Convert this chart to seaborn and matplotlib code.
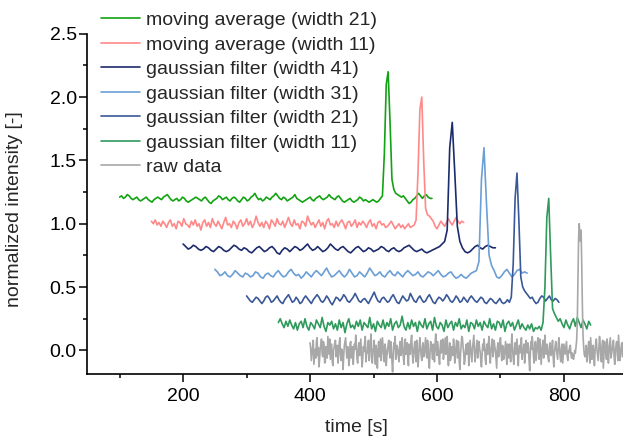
import numpy as np
import pandas as pd
import matplotlib
matplotlib.use("Agg")
import matplotlib.pyplot as plt
from matplotlib.ticker import MultipleLocator, FormatStrFormatter
import seaborn as sns

# ---------------------------------------------------------------------------
# Data: each trace is sampled at a fixed step from its own start time.
# Values are normalized intensities (baseline ~0, peak 1.0).
# ---------------------------------------------------------------------------
series_names = [
    "moving average (width 21)",
    "moving average (width 11)",
    "gaussian filter (width 41)",
    "gaussian filter (width 31)",
    "gaussian filter (width 21)",
    "gaussian filter (width 11)",
    "raw data",
]
start_times = [100, 150, 200, 250, 300, 350, 400]   # s
sample_steps = [3, 3, 4, 4, 3, 3, 1]                # s
offsets = [1.2, 1.0, 0.8, 0.6, 0.4, 0.2, 0.0]       # vertical stacking
colors = ["#12a312", "#ff8888", "#1c2b6b", "#6b9fd6",
          "#3a5897", "#2f9a5c", "#a8a8a8"]

raw_data = [
    0.06, 0.01, -0.08, -0.02, 0.03, 0.08, -0.11, -0.05, 0.01, -0.06,
    0.07, 0.10, -0.04, 0.02, -0.13, -0.07, 0.02, 0.05, 0.09, -0.03,
    -0.05, 0.07, 0.04, -0.10, -0.09, 0.03, 0.00, -0.06, 0.11, 0.04,
    -0.03, 0.09, -0.07, -0.01, 0.05, -0.09, -0.12, 0.00, 0.03, 0.06,
    0.08, -0.05, -0.02, 0.04, -0.10, -0.03, 0.06, 0.10, -0.04, -0.08,
    0.01, -0.02, -0.15, -0.04, 0.04, 0.07, 0.10, 0.01, -0.06, 0.03,
    0.02, -0.12, -0.08, 0.05, 0.07, -0.06, -0.01, 0.03, -0.11, -0.02,
    0.05, 0.01, 0.12, 0.04, -0.07, -0.10, 0.00, 0.06, -0.04, 0.02,
    0.09, -0.04, -0.13, -0.06, 0.03, -0.01, 0.06, 0.11, -0.09, -0.03,
    -0.02, 0.04, 0.08, -0.08, -0.05, 0.06, 0.13, 0.02, -0.10, -0.01,
    0.01, 0.08, -0.06, -0.11, 0.04, -0.03, -0.14, 0.00, 0.07, -0.05,
    0.02, 0.09, -0.08, -0.02, 0.10, 0.03, -0.03, -0.09, 0.05, 0.01,
    -0.12, -0.04, 0.00, 0.05, 0.08, -0.02, -0.06, 0.07, 0.03, -0.09,
    -0.17, -0.05, 0.06, 0.01, 0.11, -0.07, -0.04, 0.04, 0.01, -0.03,
    -0.09, 0.02, 0.07, -0.04, -0.02, 0.10, 0.04, -0.06, -0.11, 0.01,
    0.09, -0.03, 0.00, 0.06, -0.07, -0.12, 0.05, 0.03, -0.03, 0.08,
    0.12, 0.01, -0.10, -0.02, 0.02, 0.07, -0.05, -0.09, 0.08, 0.00,
    -0.13, -0.06, 0.04, 0.10, 0.01, -0.04, -0.08, 0.03, 0.06, -0.05,
    -0.02, 0.04, 0.10, -0.03, -0.06, 0.08, 0.03, -0.10, -0.14, -0.01,
    0.07, 0.02, -0.01, -0.07, 0.05, 0.00, -0.09, 0.06, 0.13, 0.02,
    -0.04, 0.07, 0.00, -0.06, -0.11, 0.02, 0.08, -0.02, 0.02, 0.09,
    -0.07, -0.03, 0.04, 0.10, -0.03, 0.05, 0.11, -0.05, -0.12, 0.00,
    0.06, -0.08, -0.05, 0.03, 0.01, -0.04, 0.09, 0.02, -0.10, -0.01,
    0.03, 0.08, -0.06, 0.01, 0.07, -0.09, -0.15, -0.03, 0.04, 0.11,
    0.10, 0.03, -0.02, -0.11, -0.08, 0.01, 0.05, -0.03, 0.00, 0.06,
    -0.12, -0.05, 0.08, 0.02, -0.04, -0.09, 0.02, 0.07, 0.12, -0.01,
    -0.09, -0.02, 0.03, 0.08, -0.06, -0.01, 0.07, 0.02, -0.01, -0.08,
    -0.13, -0.03, 0.05, 0.00, 0.09, 0.04, -0.07, -0.11, 0.01, 0.05,
    -0.03, 0.06, 0.11, -0.04, -0.10, 0.00, 0.04, 0.09, -0.05, -0.01,
    0.08, 0.03, 0.00, -0.07, -0.14, 0.02, 0.06, -0.05, -0.02, 0.07,
    0.10, -0.01, -0.08, 0.04, 0.03, -0.07, -0.04, 0.02, 0.07, -0.03,
    -0.11, 0.05, 0.02, -0.06, 0.05, 0.00, -0.09, 0.04, 0.13, 0.01,
    -0.06, -0.11, 0.01, 0.06, -0.03, 0.03, 0.09, -0.04, -0.12, 0.00,
    0.04, -0.02, 0.06, 0.10, -0.07, -0.01, 0.00, 0.05, -0.10, -0.04,
    0.08, 0.02, -0.02, 0.06, 0.03, -0.08, -0.16, -0.02, 0.07, 0.01,
    0.11, 0.04, -0.05, -0.10, 0.02, 0.07, -0.08, -0.01, 0.05, 0.10,
    -0.01, -0.07, 0.09, 0.02, -0.11, -0.04, 0.04, 0.08, -0.06, 0.01,
    0.12, -0.02, -0.03, 0.05, 0.00, -0.06, -0.09, 0.03, 0.06, -0.02,
    -0.04, 0.03, 0.08, -0.05, -0.13, -0.02, 0.03, 0.07, 0.01, -0.03,
    -0.07, 0.04, 0.10, 0.01, -0.05, -0.09, 0.02, 0.05, -0.10, -0.02,
    0.05, 0.01, -0.03, 0.02, 0.07, -0.04, -0.08, 0.00, -0.02, 0.03,
    0.04, -0.03, -0.06, -0.02, -0.05, -0.07, -0.04,
    0.00, -0.02, 0.03, 0.08, 0.22, 0.55, 0.88, 1.00, 0.92, 0.86,
    0.95, 0.68, 0.35, 0.12, 0.03, -0.03, -0.05,
    -0.03, 0.04, -0.09, -0.02, 0.02, 0.07, -0.05, -0.10, 0.10, 0.01,
    -0.07, 0.03, 0.04, -0.05, -0.12, 0.00, 0.06, 0.09, 0.00, -0.04,
    -0.08, 0.02, 0.11, 0.05, -0.04, -0.09, 0.03, 0.08, -0.14, -0.03,
    0.07, 0.01, -0.02, -0.07, 0.09, 0.03, -0.10, -0.01, 0.05, 0.10,
    -0.06, -0.03, 0.01, 0.06, 0.08, -0.05, -0.11, 0.00, 0.04, 0.07,
    -0.03, -0.08, 0.12, 0.02, -0.08, -0.02, 0.02, 0.06, -0.05, 0.01,
    0.07, -0.04, -0.13, -0.06, 0.03, 0.05, -0.01,
]

gauss_11 = [
    0.02, 0.05, 0.01, -0.02, 0.03, -0.01, 0.04, 0.00, -0.03, 0.02,
    -0.04, 0.01, 0.03, -0.02, 0.05, -0.01, -0.04, 0.02, 0.00, -0.03,
    0.04, 0.01, -0.02, 0.06, -0.01, -0.05, 0.02, 0.00, 0.03, -0.03,
    0.01, -0.04, 0.04, -0.02, 0.02, -0.06, 0.01, 0.05, -0.02, 0.00,
    -0.03, 0.03, -0.01, 0.04, -0.04, 0.02, 0.00, -0.02, 0.06, -0.03,
    0.01, -0.05, 0.03, 0.00, -0.02, 0.04, -0.03, 0.02, -0.01, 0.05,
    -0.04, 0.01, 0.03, -0.02, 0.00, 0.07, -0.01, -0.04, 0.02, -0.03,
    0.04, -0.01, 0.02, -0.05, 0.03, 0.00, -0.02, 0.05, -0.03, 0.01,
    0.03, -0.04, 0.06, -0.01, -0.03, 0.02, 0.00, -0.05, 0.04, -0.02,
    0.01, 0.03, -0.04, 0.02, -0.01, 0.05, -0.03, 0.00, -0.02, 0.04,
    -0.05, 0.02, 0.01, -0.03, 0.04, -0.01, 0.02, -0.04, 0.03, 0.00,
    -0.02, 0.05, -0.03, 0.01, -0.04, 0.03, 0.02, -0.02, 0.04, -0.05,
    0.01, 0.03, -0.01, 0.02, -0.04, 0.00, 0.04, -0.03, 0.01, -0.02,
    -0.04, 0.00, -0.03, 0.01, -0.05, -0.02, -0.03, -0.01, -0.04,
    0.02, 0.30, 0.85, 1.00, 0.55, 0.13, 0.09, 0.06,
    0.03, 0.05, 0.01, -0.02, 0.04, 0.00, -0.03, 0.02, 0.05, -0.01,
    0.06, 0.02, -0.02, 0.04, 0.01, -0.03, 0.03, 0.00,
]

gauss_21 = [
    0.03, 0.01, -0.01, -0.02, 0.00, 0.02, 0.01, -0.01, -0.03, -0.01,
    0.02, 0.03, 0.01, -0.02, -0.01, 0.01, 0.03, 0.00, -0.02, -0.03,
    0.00, 0.02, 0.04, 0.01, -0.02, -0.01, 0.02, 0.00, -0.03, -0.02,
    0.01, 0.03, 0.01, -0.01, -0.03, 0.00, 0.02, 0.04, 0.02, -0.01,
    -0.02, 0.00, 0.03, 0.01, -0.02, -0.04, -0.01, 0.02, 0.01, -0.01,
    0.01, 0.04, 0.02, -0.01, -0.02, 0.00, 0.02, 0.05, 0.02, -0.01,
    -0.02, 0.00, 0.01, -0.01, -0.03, 0.00, 0.03, 0.06, 0.02, -0.01,
    -0.02, 0.01, 0.02, 0.00, -0.02, -0.01, 0.02, 0.04, 0.01, -0.02,
    -0.03, 0.00, 0.03, 0.01, -0.01, 0.00, 0.05, 0.02, -0.01, -0.02,
    0.01, 0.03, 0.00, -0.02, -0.01, 0.02, 0.04, 0.01, -0.02, -0.03,
    0.00, 0.02, 0.01, -0.01, 0.01, 0.04, 0.02, -0.01, -0.02, 0.00,
    0.03, 0.01, -0.02, -0.01, 0.02, 0.00, -0.02, 0.01, 0.03, 0.01,
    -0.01, -0.02, 0.00, 0.02, 0.01, -0.02, -0.03, -0.01, 0.01, 0.00,
    -0.02, -0.03, -0.01, 0.01, -0.02, -0.03, -0.02, 0.00, -0.02,
    0.02, 0.28, 0.80, 1.00, 0.62, 0.18, 0.10, 0.07,
    0.05, 0.03, 0.01, 0.02, -0.01, -0.03, -0.02, 0.01, 0.03, 0.02,
    -0.01, 0.01, 0.03, 0.00, -0.01, 0.01, 0.00, -0.02,
]

gauss_31 = [
    0.04, 0.02, -0.01, 0.00, 0.02, -0.01, -0.02, 0.00, 0.03, 0.01,
    -0.01, -0.02, 0.01, 0.00, -0.02, -0.01, 0.02, 0.01, -0.02, -0.03,
    0.00, 0.01, -0.01, -0.02, 0.01, 0.03, 0.00, -0.02, -0.01, 0.02,
    0.04, 0.01, -0.01, 0.00, -0.03, -0.01, 0.02, 0.00, -0.02, 0.01,
    0.03, 0.01, -0.01, 0.02, 0.05, 0.01, -0.02, -0.01, 0.01, 0.03,
    0.00, -0.02, 0.00, 0.04, 0.01, -0.02, -0.01, 0.02, 0.00, -0.02,
    0.01, 0.05, 0.02, -0.01, 0.00, 0.02, -0.01, -0.02, 0.01, 0.03,
    0.00, -0.01, 0.02, 0.00, -0.02, 0.01, 0.03, 0.01, -0.01, 0.00,
    0.02, -0.01, -0.02, 0.00, 0.02, 0.01, -0.01, 0.01, 0.03, 0.00,
    -0.02, -0.01, 0.01, 0.02, -0.01, -0.03, -0.02, 0.00, -0.02, -0.03,
    -0.01, 0.01, 0.02, 0.03,
    0.10, 0.75, 1.00, 0.55, 0.15, 0.07,
    0.03, -0.02, -0.03, -0.01, 0.02, 0.04, 0.01, -0.02, 0.00, 0.03,
    0.04, 0.01, 0.02, 0.01,
]

gauss_41 = [
    0.04, 0.02, 0.00, 0.01, 0.03, 0.02, 0.00, -0.01, 0.00, 0.02,
    0.01, -0.01, -0.02, 0.00, 0.02, 0.01, -0.01, -0.02, -0.01, 0.01,
    0.03, 0.02, 0.00, -0.01, 0.01, 0.00, -0.02, -0.03, -0.01, 0.01,
    0.02, 0.00, -0.02, -0.01, 0.01, 0.02, 0.00, -0.03, -0.04, -0.01,
    0.01, 0.00, -0.02, 0.00, 0.02, 0.01, -0.01, 0.00, 0.02, 0.04,
    0.01, -0.01, 0.00, 0.02, 0.00, -0.02, -0.01, 0.01, 0.04, 0.02,
    0.00, -0.01, 0.01, 0.02, 0.00, -0.02, -0.03, -0.01, 0.01, 0.02,
    0.00, -0.02, -0.01, 0.01, 0.00, -0.02, -0.01, 0.00, 0.02, 0.01,
    -0.01, -0.02, 0.00, 0.01, -0.01, -0.02, -0.01, 0.01, 0.02, 0.03,
    0.01, -0.01, -0.02, -0.01, 0.00, -0.02, -0.03, -0.02, -0.01, 0.00,
    0.01, 0.02, 0.04, 0.06,
    0.15, 0.80, 1.00, 0.60, 0.18, 0.06,
    0.01, -0.02, -0.03, -0.02, 0.00, 0.02, 0.03, 0.01, 0.00, 0.02,
    0.03, 0.02, 0.01, 0.01,
]

moving_avg_11 = [
    0.02, 0.00, 0.03, -0.01, 0.01, -0.02, 0.02, 0.00, -0.03, 0.01,
    0.03, -0.02, 0.00, -0.04, 0.02, 0.01, -0.02, 0.04, 0.00, -0.01,
    -0.03, 0.02, -0.01, 0.03, -0.02, 0.00, -0.05, 0.01, 0.03, -0.02,
    0.01, -0.03, 0.04, 0.00, -0.02, 0.02, -0.01, -0.04, 0.01, 0.05,
    -0.01, 0.00, -0.03, 0.02, 0.00, -0.04, 0.01, 0.03, -0.02, 0.00,
    0.04, -0.01, 0.02, -0.03, 0.00, 0.06, 0.01, -0.02, 0.01, -0.03,
    0.02, 0.00, -0.04, 0.03, 0.01, -0.02, 0.04, 0.00, -0.01, 0.02,
    -0.03, 0.01, 0.05, 0.00, -0.02, 0.03, -0.01, 0.00, -0.04, 0.02,
    0.01, -0.02, 0.06, 0.02, -0.01, 0.01, -0.03, 0.00, 0.03, -0.02,
    0.01, -0.04, 0.02, 0.04, -0.01, 0.00, -0.03, 0.02, -0.02, 0.01,
    0.03, 0.00, -0.04, 0.01, 0.02, -0.02, 0.00, 0.03, -0.03, 0.01,
    -0.01, 0.02, 0.00, -0.03, 0.01, 0.03, -0.02, 0.00, -0.04, 0.01,
    0.02, -0.01, 0.00, -0.03, -0.02, 0.00, 0.02, -0.01, -0.04, -0.02,
    0.00, -0.03, -0.01, -0.04, -0.02, 0.00, -0.03, -0.02, -0.01,
    0.03, 0.40, 0.90, 1.00, 0.50, 0.12, 0.07, 0.06,
    0.04, 0.02, -0.02, -0.04, -0.01, 0.02, 0.00, -0.02, 0.01, 0.04,
    0.01, -0.01, 0.02, 0.05, 0.02, 0.00, 0.02, 0.01,
]

moving_avg_21 = [
    0.01, 0.02, 0.00, 0.01, 0.03, 0.02, 0.00, -0.01, 0.00, 0.01,
    -0.01, -0.02, -0.01, 0.00, 0.01, -0.01, -0.02, -0.03, -0.01, 0.00,
    0.01, 0.00, -0.01, 0.01, 0.02, 0.03, 0.01, -0.01, -0.02, -0.01,
    0.00, -0.02, -0.01, 0.01, 0.00, -0.02, -0.03, -0.02, -0.01, 0.00,
    0.01, 0.00, -0.01, -0.02, 0.00, 0.01, -0.01, -0.03, -0.04, -0.02,
    -0.01, 0.00, 0.02, 0.01, -0.01, 0.00, 0.01, -0.01, -0.02, 0.00,
    0.01, 0.00, -0.02, -0.03, -0.01, 0.01, 0.00, -0.02, -0.01, 0.01,
    0.02, 0.04, 0.01, -0.01, 0.00, -0.02, -0.01, 0.01, 0.00, -0.01,
    0.01, 0.02, 0.04, 0.02, 0.00, -0.01, 0.01, 0.00, -0.02, -0.01,
    0.00, 0.01, 0.03, 0.00, -0.01, -0.02, -0.03, -0.02, -0.01, 0.00,
    0.01, -0.01, -0.02, 0.00, 0.01, 0.02, 0.00, -0.01, 0.00, 0.01,
    0.03, 0.01, 0.00, -0.01, 0.01, 0.02, 0.00, -0.02, -0.03, -0.02,
    -0.01, 0.00, -0.02, -0.03, -0.02, -0.01, 0.01, 0.00, -0.02, -0.01,
    -0.02, -0.03, -0.02, -0.01, -0.02, -0.03, -0.02,
    0.00, 0.02, 0.35, 0.90, 1.00, 0.60, 0.15, 0.07,
    0.04, 0.03, 0.02, 0.01, 0.02, 0.00, -0.02, -0.04, -0.03, -0.01,
    0.00, 0.02, 0.04, 0.02, 0.00, 0.02, 0.03, 0.01, 0.00, 0.00,
]

series_values = [moving_avg_21, moving_avg_11, gauss_41, gauss_31,
                 gauss_21, gauss_11, raw_data]

# Long-form table: shift each trace by its start time and stacking offset
frames = []
for name, t0, dt, off, vals in zip(series_names, start_times, sample_steps,
                                   offsets, series_values):
    v = np.asarray(vals, dtype=float)
    frames.append(pd.DataFrame({
        "time": t0 + dt * np.arange(len(v)),
        "intensity": v + off,
        "series": name,
    }))
df = pd.concat(frames, ignore_index=True)

sns.set_style("ticks")
plt.rcParams["font.family"] = ["Liberation Sans", "DejaVu Sans"]
plt.rcParams["font.size"] = 14

fig = plt.figure(figsize=(6.23, 4.40), dpi=100)
ax = fig.add_axes([0.1401, 0.1489, 0.8599, 0.7745])

palette = dict(zip(series_names, colors))
sns.lineplot(data=df, x="time", y="intensity", hue="series",
             hue_order=series_names, palette=palette, estimator=None,
             sort=False, linewidth=1.2, ax=ax)

# keep the raw trace underneath the filtered ones
for line in ax.get_lines():
    if line.get_label() == "raw data":
        line.set_zorder(1.5)
        line.set_linewidth(1.0)

ax.set_xlim(49, 893)
ax.set_ylim(-0.19, 2.5)
ax.xaxis.set_major_locator(MultipleLocator(200))
ax.xaxis.set_minor_locator(MultipleLocator(100))
ax.yaxis.set_major_locator(MultipleLocator(0.5))
ax.yaxis.set_minor_locator(MultipleLocator(0.25))
ax.yaxis.set_major_formatter(FormatStrFormatter("%.1f"))

for side in ("top", "right"):
    ax.spines[side].set_visible(False)
for side in ("left", "bottom"):
    ax.spines[side].set_linewidth(1.2)
    ax.spines[side].set_color("black")
ax.tick_params(which="major", direction="out", length=5.5, width=1.1,
               colors="black", labelsize=14)
ax.tick_params(which="minor", direction="out", length=3.2, width=1.1,
               colors="black")
ax.tick_params(axis="x", which="major", pad=4)
ax.tick_params(axis="y", which="major", pad=2.0)

ax.set_xlabel("time [s]", fontsize=14, va="center")
ax.set_ylabel("normalized intensity [-]", fontsize=14, va="center")
ax.xaxis.set_label_coords(0.503, -0.157)
ax.yaxis.set_label_coords(-0.135, 0.485)

handles, labels = ax.get_legend_handles_labels()
leg = ax.legend(handles, labels, loc="upper left",
                bbox_to_anchor=(101 / 623, 1 - 11.5 / 440),
                bbox_transform=fig.transFigure, frameon=False,
                fontsize=14, handlelength=2.0, handletextpad=0.3,
                labelspacing=0.355, borderpad=0, borderaxespad=0)
for h in leg.get_lines():
    h.set_linewidth(1.2)

fig.savefig("out.png", dpi=100)
